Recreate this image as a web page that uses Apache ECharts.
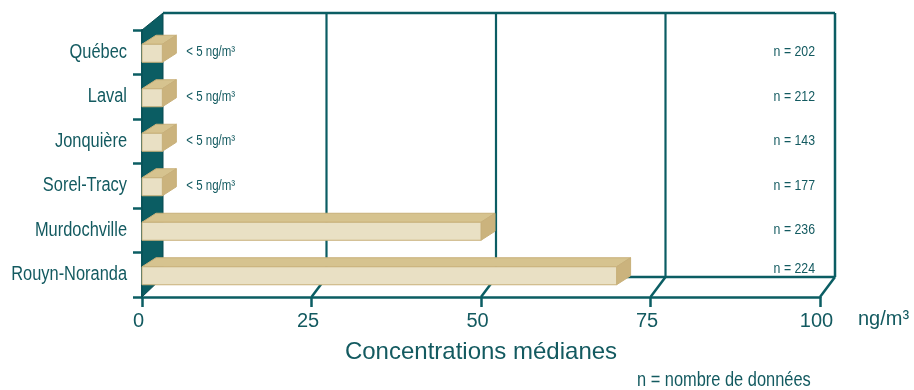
<!DOCTYPE html>
<html>
<head>
<meta charset="utf-8">
<script src="https://cdn.jsdelivr.net/npm/echarts@6/dist/echarts.min.js"></script>
<style>
  html, body { margin: 0; padding: 0; background: #ffffff; }
  #chart { width: 914px; height: 390px; }
</style>
</head>
<body>
<div id="chart"></div>
<script>
// Median concentrations by site (ng/m³)
const sites = ['Québec', 'Laval', 'Jonquière', 'Sorel-Tracy', 'Murdochville', 'Rouyn-Noranda'];
const medians = [3, 3, 3, 3, 50, 70];
const medianNotes = ['< 5 ng/m³', '< 5 ng/m³', '< 5 ng/m³', '< 5 ng/m³', '', ''];
const sampleCounts = [202, 212, 143, 177, 236, 224];
const gridValues = [25, 50, 75, 100];

const TEAL = '#0b5d63';
const INK = '#135a60';
const FONT = 'Liberation Sans, Arial, sans-serif';
const NARROW_SCALE = 0.82; // condensed lettering

// 3D box depth offsets (px)
const WALL_DX = 21, WALL_DY = 17;
const FLOOR_DX = 15, FLOOR_DY = 20;
const BAR_DX = 14, BAR_DY = 9;

const chart = echarts.init(document.getElementById('chart'), null, { renderer: 'canvas' });

function narrowText(x, y, text, size, align) {
  return {
    type: 'text', x, y, scaleX: NARROW_SCALE,
    style: { x: 0, y: 0, text, fill: INK, font: size + 'px ' + FONT,
             textAlign: align, textVerticalAlign: 'middle' }
  };
}

function frameItem(params, api) {
  const cs = params.coordSys;
  const L = cs.x, T = cs.y, R = cs.x + cs.width, B = cs.y + cs.height;
  const line = (x1, y1, x2, y2, w) => ({
    type: 'line',
    shape: { x1, y1, x2, y2 },
    style: { stroke: TEAL, lineWidth: w || 2 }
  });
  const children = [];
  // back wall: top and right border, gridlines
  children.push(line(L + WALL_DX, T - WALL_DY, R + FLOOR_DX, T - WALL_DY, 2.5));
  children.push(line(R + FLOOR_DX, T - WALL_DY, R + FLOOR_DX, B - FLOOR_DY, 2.5));
  gridValues.forEach(v => {
    const x = api.coord([v, 0])[0];
    if (v < 100) children.push(line(x + FLOOR_DX, T - WALL_DY, x + FLOOR_DX, B - FLOOR_DY, 2.2));
    children.push(line(x, B, x + FLOOR_DX, B - FLOOR_DY, 2.5));
  });
  // back edge of the floor
  children.push(line(L + WALL_DX, B - FLOOR_DY, R + FLOOR_DX, B - FLOOR_DY, 2.5));
  // left side wall
  children.push({
    type: 'polygon',
    shape: { points: [[L, B], [L, T], [L + WALL_DX, T - WALL_DY], [L + WALL_DX, B - FLOOR_DY]] },
    style: { fill: TEAL, stroke: '#084b50', lineWidth: 1 }
  });
  return { type: 'group', children };
}

function barItem(params, api) {
  const v = api.value(0), idx = api.value(1);
  const start = api.coord([0, idx]);
  const end = api.coord([v, idx]);
  const x0 = start[0], x1 = end[0];
  const yTop = start[1] - 8, yBot = start[1] + 10;
  const edge = '#c8b07a';
  return {
    type: 'group',
    children: [
      { type: 'polygon',
        shape: { points: [[x0, yTop], [x1, yTop], [x1 + BAR_DX, yTop - BAR_DY], [x0 + BAR_DX, yTop - BAR_DY]] },
        style: { fill: '#d6c38f', stroke: edge, lineWidth: 1 } },
      { type: 'polygon',
        shape: { points: [[x1, yTop], [x1 + BAR_DX, yTop - BAR_DY], [x1 + BAR_DX, yBot - BAR_DY], [x1, yBot]] },
        style: { fill: '#cbb37d', stroke: edge, lineWidth: 1 } },
      { type: 'rect',
        shape: { x: x0, y: yTop, width: x1 - x0, height: yBot - yTop },
        style: { fill: '#e9e0c4', stroke: edge, lineWidth: 1 } }
    ]
  };
}

function labelItem(params, api) {
  const cs = params.coordSys;
  const L = cs.x, R = cs.x + cs.width, B = cs.y + cs.height;
  const v = api.value(0), idx = api.value(1);
  const end = api.coord([v, idx]);
  const cy = end[1];
  const children = [];
  // site name, left of the axis
  children.push(narrowText(L - 15, cy, sites[idx], 20, 'right'));
  const note = medianNotes[idx];
  if (note) children.push(narrowText(end[0] + 24, cy, note, 14, 'left'));
  children.push(narrowText(R - 5, Math.min(cy, B - FLOOR_DY - 8), 'n = ' + sampleCounts[idx], 15, 'right'));
  return { type: 'group', children };
}

const barData = medians.map((v, i) => [v, i]);

chart.setOption({
  animation: false,
  backgroundColor: '#ffffff',
  grid: { left: 142, right: 94, top: 30, bottom: 93, containLabel: false, outerBoundsMode: 'none' },
  title: [
    { text: 'ng/m³', left: 858, top: 309, padding: 0,
      textStyle: { fontSize: 20, fontWeight: 'normal', color: INK, fontFamily: FONT } }
  ],
  graphic: [
    { type: 'text', x: 637, y: 380, scaleX: NARROW_SCALE,
      style: { text: 'n = nombre de données', fill: INK, font: '20px ' + FONT,
               textAlign: 'left', textVerticalAlign: 'middle' } }
  ],
  xAxis: {
    type: 'value', min: 0, max: 100, interval: 25,
    axisLine: { show: true, lineStyle: { color: TEAL, width: 2.5 } },
    axisTick: { show: true, length: 10, lineStyle: { color: TEAL, width: 2.5 } },
    splitLine: { show: false },
    axisLabel: {
      color: INK, fontSize: 20, fontFamily: FONT, margin: 14,
      padding: [0, 7, 0, 0]
    },
    name: 'Concentrations médianes', nameLocation: 'middle', nameGap: 43,
    nameTextStyle: { color: INK, fontSize: 24, fontFamily: FONT }
  },
  yAxis: {
    type: 'category', inverse: true, data: sites,
    axisLine: { show: true, lineStyle: { color: TEAL, width: 2 } },
    axisTick: { show: true, length: 9, lineStyle: { color: TEAL, width: 2.5 } },
    splitLine: { show: false },
    axisLabel: { show: false }
  },
  series: [
    { type: 'custom', name: 'frame', renderItem: frameItem, data: [[0, 0]], z: 1, silent: true },
    { type: 'custom', name: 'Concentration médiane', renderItem: barItem, data: barData,
      encode: { x: 0, y: 1 }, z: 3 },
    { type: 'custom', name: 'labels', renderItem: labelItem, data: barData,
      encode: { x: 0, y: 1 }, z: 4, silent: true }
  ]
});
</script>
</body>
</html>
